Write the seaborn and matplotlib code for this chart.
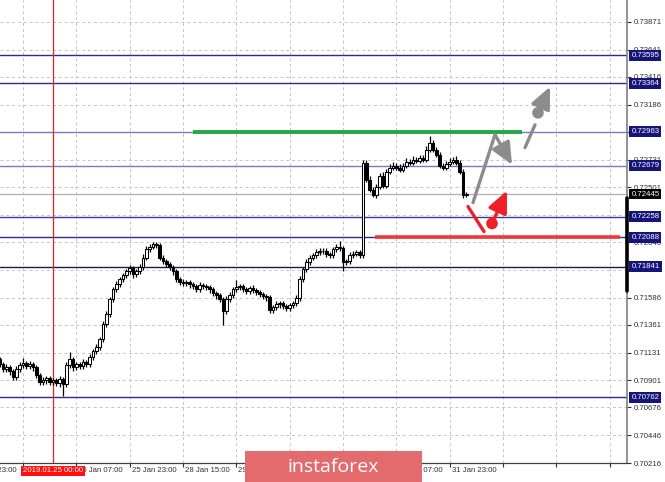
import numpy as np
import pandas as pd
import matplotlib
matplotlib.use("Agg")
import matplotlib.pyplot as plt
from matplotlib.patches import Rectangle
import seaborn as sns

# hourly closes, 23 Jan 08:00 .. 1 Feb 04:00 (bar index 0..140)
first_open = 0.71076
closes = [
    0.71034, 0.70993, 0.71010, 0.70976, 0.70927, 0.70993, 0.71026, 0.71043, 0.71018, 0.71034,
    0.71010, 0.70943, 0.70886, 0.70902, 0.70919, 0.70886, 0.70902, 0.70877, 0.70910, 0.70869,
    0.71026, 0.71076, 0.71010, 0.71034, 0.71018, 0.71051, 0.71034, 0.71092, 0.71142, 0.71175,
    0.71241, 0.71365, 0.71448, 0.71572, 0.71655, 0.71696, 0.71737, 0.71771, 0.71804, 0.71828,
    0.71779, 0.71804, 0.71837, 0.71919, 0.71986, 0.72010, 0.72027, 0.72019, 0.71919, 0.71886,
    0.71862, 0.71837, 0.71804, 0.71737, 0.71713, 0.71704, 0.71713, 0.71696, 0.71680, 0.71655,
    0.71688, 0.71680, 0.71671, 0.71655, 0.71622, 0.71605, 0.71572, 0.71473, 0.71572, 0.71605,
    0.71655, 0.71671, 0.71680, 0.71655, 0.71638, 0.71663, 0.71646, 0.71630, 0.71613, 0.71597,
    0.71589, 0.71481, 0.71506, 0.71531, 0.71539, 0.71514, 0.71498, 0.71522, 0.71539, 0.71580,
    0.71737, 0.71820, 0.71878, 0.71919, 0.71936, 0.71961, 0.71977, 0.71969, 0.71944, 0.71936,
    0.71986, 0.72002, 0.71994, 0.71878, 0.71886, 0.71936, 0.71952, 0.71961, 0.71936, 0.72705,
    0.72564, 0.72482, 0.72440, 0.72507, 0.72598, 0.72515, 0.72631, 0.72664, 0.72680, 0.72664,
    0.72647, 0.72680, 0.72713, 0.72705, 0.72730, 0.72722, 0.72746, 0.72730, 0.72813, 0.72870,
    0.72813, 0.72771, 0.72680, 0.72664, 0.72697, 0.72713, 0.72730, 0.72705, 0.72631, 0.72440,
    0.72445,
]
# wick lengths in pips
wick_up = [
    2, 2, 3, 2, 2, 3, 3, 4, 2, 3, 2, 2, 2, 3, 2, 2, 2, 2, 3, 2,
    3, 6, 2, 2, 2, 3, 2, 3, 2, 3, 2, 3, 3, 2, 2, 3, 2, 2, 2, 3,
    2, 2, 3, 3, 3, 2, 2, 2, 2, 2, 2, 2, 2, 2, 2, 3, 2, 2, 2, 2,
    3, 2, 2, 2, 2, 2, 2, 2, 3, 3, 2, 6, 2, 2, 2, 2, 3, 2, 2, 2,
    2, 2, 2, 3, 2, 2, 2, 2, 2, 3, 3, 2, 3, 2, 2, 3, 2, 2, 3, 2,
    2, 3, 5, 2, 2, 3, 2, 2, 2, 2, 2, 3, 2, 2, 2, 3, 2, 3, 3, 2,
    3, 2, 3, 2, 3, 2, 2, 2, 3, 6, 2, 2, 2, 2, 2, 3, 2, 3, 2, 2, 2,
]
wick_dn = [
    2, 2, 2, 3, 2, 2, 2, 2, 2, 2, 3, 2, 2, 2, 3, 2, 2, 2, 3, 10,
    2, 2, 3, 2, 2, 2, 2, 2, 2, 2, 2, 2, 2, 2, 2, 2, 2, 2, 2, 2,
    3, 2, 2, 2, 2, 2, 2, 2, 2, 2, 2, 2, 3, 2, 2, 2, 2, 3, 2, 2,
    2, 2, 2, 3, 2, 3, 2, 11, 2, 2, 2, 2, 2, 2, 2, 2, 2, 2, 2, 2,
    3, 2, 2, 2, 3, 2, 2, 2, 2, 2, 2, 2, 2, 2, 2, 2, 2, 2, 2, 2,
    2, 2, 2, 7, 2, 2, 2, 2, 2, 2, 2, 2, 2, 3, 2, 2, 2, 2, 2, 2,
    2, 2, 2, 2, 2, 2, 2, 2, 2, 2, 2, 2, 2, 2, 2, 2, 2, 2, 2, 3, 2,
]

levels = [0.73595, 0.73364, 0.72963, 0.72679, 0.72258, 0.72088, 0.71841, 0.70762]
level_colors = ["#2b2b8c", "#2b2b8c", "#7878c8", "#7878c8", "#3a3a9a", "#2b2b8c", "#1c1c55", "#2b2b8c"]
last_price = 0.72445
day_range = [0.72416, 0.71638]

price_ticks = [0.73871, 0.73641, 0.73416, 0.73186, 0.72956, 0.72731, 0.72501, 0.72271,
               0.72046, 0.71816, 0.71586, 0.71361, 0.71131, 0.70901, 0.70676, 0.70446, 0.70216]
time_ticks = [-9, 7, 23, 39, 55, 71, 87, 103, 119, 135, 151, 167, 183]
time_labels = ["23 Jan 23:00", "24 Jan 15:00", "25 Jan 07:00", "25 Jan 23:00", "28 Jan 15:00",
               "29 Jan 07:00", "29 Jan 23:00", "30 Jan 15:00", "31 Jan 07:00", "31 Jan 23:00"]
vline_bar = 16
vline_label = "2019.01.25 00:00"

# resistance (green) and support (red) segments: bar start, bar end, price
green_seg = [58.0, 156.7, 0.72963]
red_seg = [112.6, 186.1, 0.72088]
# forecast scenario paths (bar index, price)
gray_path_x = [142.0, 148.6]
gray_path_y = [0.72374, 0.72937]
gray_arrow = [148.6, 0.72937, 153.7, 0.72688]
gray_dash_x = [157.6, 160.6]
gray_dash_y = [0.72829, 0.73019]
gray_dot = [161.5, 0.73118, 165.1, 0.73334]
red_path_x = [140.5, 145.3]
red_path_y = [0.72341, 0.72134]
red_dot = [147.7, 0.72201, 152.2, 0.72473]

df = pd.DataFrame({"close": closes})
df["bar"] = np.arange(len(df))
df["open"] = [first_open] + closes[:-1]
df["high"] = df[["open", "close"]].max(axis=1) + np.array(wick_up) * 0.0001
df["low"] = df[["open", "close"]].min(axis=1) - np.array(wick_dn) * 0.0001

sns.set_theme(style="white")
plt.rcParams["font.family"] = ["Liberation Sans", "DejaVu Sans"]
fs = 5.6

fig = plt.figure(figsize=(6.65, 4.82), dpi=100)
ax = fig.add_axes([0, 19 / 482, 627 / 665, 463 / 482])
ax.set_xlim(0.1, 188.2)
ax.set_ylim(0.70220, 0.74053)

ax.set_yticks(price_ticks)
ax.set_yticklabels([f"{t:.5f}" for t in price_ticks])
ax.set_xticks(time_ticks[1:])
ax.set_xticklabels([])
ax.yaxis.tick_right()
ax.tick_params(axis="y", direction="out", length=3, width=0.8, labelsize=fs, pad=2, colors="#303030")
ax.tick_params(axis="x", direction="out", length=3, width=0.8, bottom=True, colors="#303030")
ax.grid(True, ls=(0, (3, 3)), color="#c4c4c4", lw=0.7)
for s in ["left", "top"]:
    ax.spines[s].set_visible(False)
ax.spines["right"].set_color("#808080")
ax.spines["right"].set_linewidth(1.2)
ax.spines["bottom"].set_color("#404040")
ax.spines["bottom"].set_linewidth(0.9)

# levels
for lv, col in zip(levels, level_colors):
    ax.axhline(lv, color=col, lw=1.0, zorder=1.5)
ax.axhline(last_price, color="#b0b0b0", lw=0.9, zorder=1.4)
ax.axvline(vline_bar, color="#e82020", lw=0.9, zorder=1.5)

# candles
ax.vlines(df["bar"], df["low"], df["high"], color="black", lw=0.9, zorder=3)
bull = df["close"] >= df["open"]
ax.bar(df["bar"][bull], (df["close"] - df["open"])[bull].clip(lower=0.00003),
       bottom=df["open"][bull], width=0.72, color="white", edgecolor="black", lw=0.75, zorder=4)
ax.bar(df["bar"][~bull], (df["open"] - df["close"])[~bull].clip(lower=0.00003),
       bottom=df["close"][~bull], width=0.72, color="black", edgecolor="black", lw=0.75, zorder=4)

# support / resistance
ax.plot(green_seg[:2], [green_seg[2]] * 2, color="#25a744", lw=2.8, solid_capstyle="butt", zorder=5)
ax.plot(red_seg[:2], [red_seg[2]] * 2, color="#f0373c", lw=2.6, solid_capstyle="butt", zorder=5)

# scenarios
head = "-|>,head_length=1.1,head_width=0.5"
sns.lineplot(x=gray_path_x, y=gray_path_y, ax=ax, color="#8c8c8c", lw=2.4, zorder=6)
ax.annotate("", xy=(gray_arrow[2], gray_arrow[3]), xytext=(gray_arrow[0], gray_arrow[1]),
            arrowprops=dict(arrowstyle=head, color="#8c8c8c", lw=2.4, shrinkA=0, shrinkB=0), zorder=6)
ax.plot(gray_dash_x, gray_dash_y, color="#8c8c8c", lw=2.4, zorder=6)
ax.annotate("", xy=(gray_dot[2], gray_dot[3]), xytext=(gray_dot[0], gray_dot[1]),
            arrowprops=dict(arrowstyle=head, color="#8c8c8c", lw=2.4, shrinkA=0, shrinkB=0), zorder=6)
sns.scatterplot(x=[gray_dot[0]], y=[gray_dot[1]], ax=ax, color="#8c8c8c", s=70, edgecolor="none", zorder=7)
sns.lineplot(x=red_path_x, y=red_path_y, ax=ax, color="#f0202a", lw=2.4, zorder=6)
ax.annotate("", xy=(red_dot[2], red_dot[3]), xytext=(red_dot[0], red_dot[1]),
            arrowprops=dict(arrowstyle=head, color="#f0202a", lw=2.4, shrinkA=0, shrinkB=0), zorder=6)
sns.scatterplot(x=[red_dot[0]], y=[red_dot[1]], ax=ax, color="#f0202a", s=70, edgecolor="none", zorder=7)

# right-axis price boxes
trans = ax.get_yaxis_transform()
for lv in levels:
    ax.text(1.007, lv, f"{lv:.5f}", transform=trans, fontsize=fs, color="white", va="center", ha="left",
            clip_on=False, zorder=10,
            bbox=dict(boxstyle="square,pad=0.25", fc="#14147a", ec="none"))
ax.text(1.007, last_price, f"{last_price:.5f}", transform=trans, fontsize=fs, color="white", va="center",
        ha="left", clip_on=False, zorder=10, bbox=dict(boxstyle="square,pad=0.25", fc="black", ec="none"))
ax.plot([1.0, 1.0], day_range, transform=trans, color="black", lw=2.6, clip_on=False, zorder=9)

# time labels
xtrans = ax.get_xaxis_transform()
for t, lab in zip(time_ticks, time_labels):
    ax.text(t + 0.6, -0.009, lab, transform=xtrans, fontsize=fs, color="#303030", ha="left", va="top",
            clip_on=False)
ax.text(vline_bar, -0.009, vline_label, transform=xtrans, fontsize=fs, color="white", ha="center",
        va="top", clip_on=False, zorder=10,
        bbox=dict(boxstyle="square,pad=0.2", fc="#ff1010", ec="none"))

# watermark
fig.add_artist(Rectangle((245 / 665, 0), 177 / 665, 31 / 482, transform=fig.transFigure,
                         fc="#e36a6d", ec="none", zorder=20))
fig.text(333 / 665, 15 / 482, "instaforex", color="white", fontsize=14, ha="center", va="center",
         family=["Open Sans", "DejaVu Sans"], zorder=21)

fig.savefig("out.png", dpi=100)
